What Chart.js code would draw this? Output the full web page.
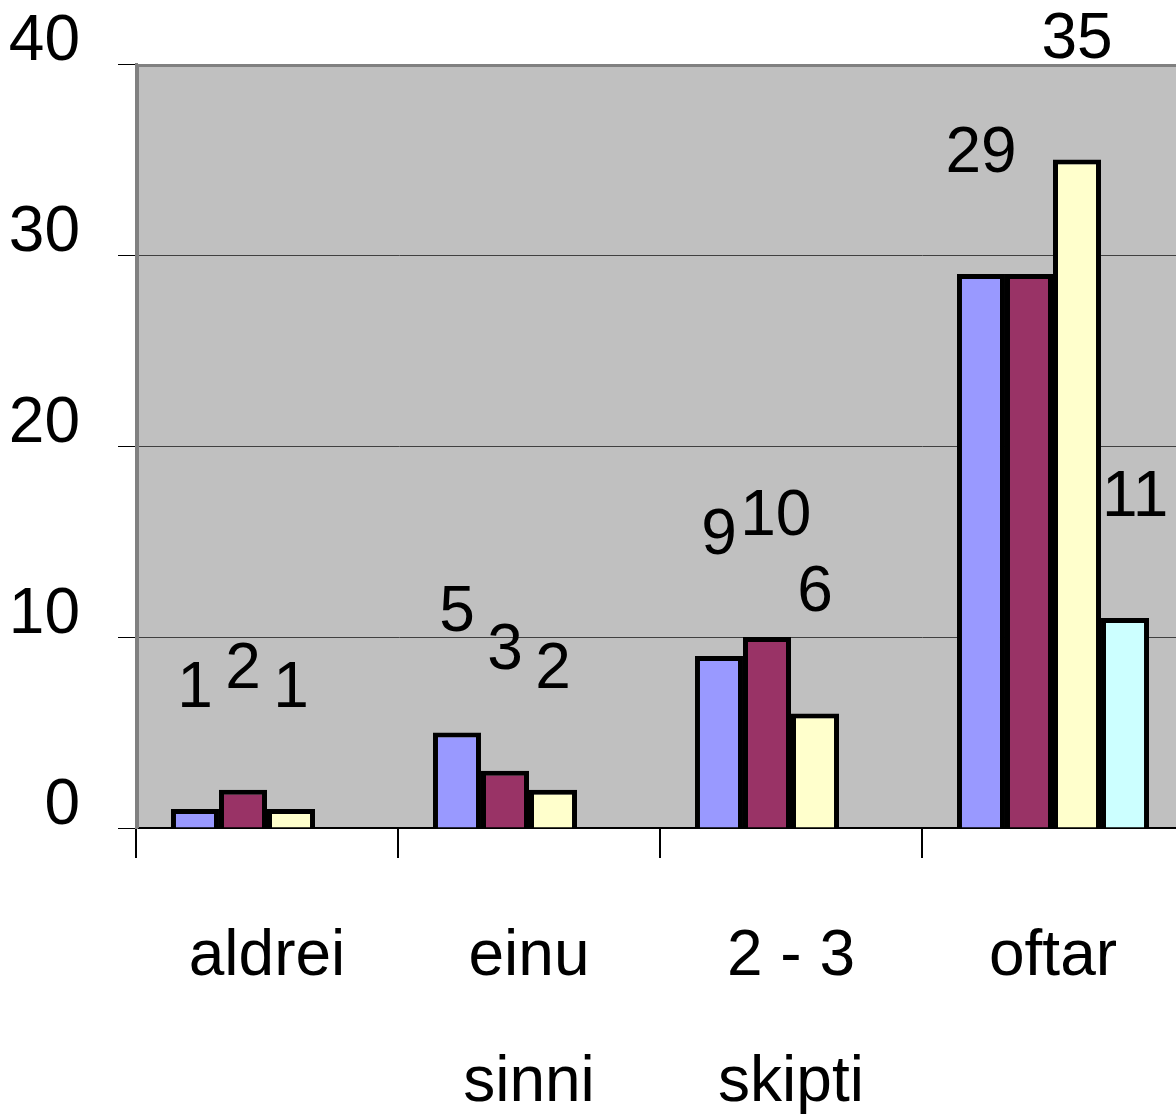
<html lang="is">
<head>
    <meta charset="UTF-8">
    <title>Fjöldi skipta</title>
    <script src="https://cdn.jsdelivr.net/npm/chart.js"></script>
    <style>
        body { margin: 0; overflow: hidden; background: #fff; }
    </style>
</head>
<body>
    <canvas id="barChart" width="1200" height="1119"></canvas>
    <script>
        // Flokkar (tveggja lína merki)
        var categories = [['aldrei'], ['einu', 'sinni'], ['2 - 3', 'skipti'], ['oftar']];
        // Gildi hverrar raðar
        var series1 = [1, 5, 9, 29];
        var series2 = [2, 3, 10, 29];
        var series3 = [1, 2, 6, 35];
        var series4 = [null, null, null, 11];
        var yTicks = [0, 10, 20, 30, 40];

        var fontFamily = '"Liberation Sans", Arial, sans-serif';

        // Grár bakgrunnur á teiknisvæði
        var plotBackground = {
            id: 'plotBackground',
            beforeDraw: function (chart) {
                var a = chart.chartArea, ctx = chart.ctx;
                ctx.save();
                ctx.fillStyle = '#C0C0C0';
                ctx.fillRect(a.left, a.top, a.right - a.left, a.bottom - a.top);
                ctx.restore();
            },
            beforeDatasetsDraw: function (chart) {
                var a = chart.chartArea, ctx = chart.ctx;
                ctx.save();
                ctx.strokeStyle = '#808080';
                ctx.lineWidth = 3;
                ctx.beginPath();
                ctx.moveTo(a.left + 1.5, a.bottom);
                ctx.lineTo(a.left + 1.5, a.top + 1.5);
                ctx.lineTo(a.right, a.top + 1.5);
                ctx.stroke();
                ctx.restore();
            }
        };

        function overlaps(a, b, gap) {
            return a.l < b.r + gap && a.r + gap > b.l && a.t < b.b && a.b > b.t;
        }

        // Gildismerki fyrir ofan súlur: færð aðeins til hægri ef þau rekast á, annars sleppt
        var valueLabels = {
            id: 'valueLabels',
            afterDatasetsDraw: function (chart) {
                var ctx = chart.ctx;
                var maxShift = 16;
                var boxes = [];
                var bars = [];
                chart.data.datasets.forEach(function (ds, i) {
                    chart.getDatasetMeta(i).data.forEach(function (bar, j) {
                        if (ds.data[j] === null) return;
                        bars.push({ l: bar.x - bar.width / 2, r: bar.x + bar.width / 2, t: bar.y, b: bar.base, own: i + '-' + j, gap: 5 });
                    });
                });
                ctx.save();
                ctx.font = '64px ' + fontFamily;
                ctx.fillStyle = '#000';
                ctx.textAlign = 'center';
                ctx.textBaseline = 'alphabetic';
                chart.data.datasets.forEach(function (ds, i) {
                    var meta = chart.getDatasetMeta(i);
                    meta.data.forEach(function (bar, j) {
                        var v = ds.data[j];
                        if (v === null || v === undefined) return;
                        var text = String(v);
                        var m = ctx.measureText(text);
                        var baseY = bar.y - 102;
                        var box = {
                            l: bar.x - m.actualBoundingBoxLeft,
                            r: bar.x + m.actualBoundingBoxRight,
                            t: baseY - m.actualBoundingBoxAscent,
                            b: baseY,
                            gap: 10
                        };
                        var shift = 0;
                        var others = boxes.concat(bars.filter(function (o) { return o.own !== i + '-' + j; }));
                        others.forEach(function (o) {
                            if (overlaps(box, o, o.gap)) shift = Math.max(shift, o.r + o.gap - box.l);
                        });
                        if (shift > maxShift) return;
                        box.l += shift;
                        box.r += shift;
                        boxes.push(box);
                        ctx.fillText(text, bar.x + shift, baseY);
                    });
                });
                ctx.restore();
            }
        };

        var ctx = document.getElementById('barChart').getContext('2d');
        var barChart = new Chart(ctx, {
            type: 'bar',
            data: {
                labels: categories,
                datasets: [
                    { label: 'Röð 1', data: series1, backgroundColor: '#9999FF' },
                    { label: 'Röð 2', data: series2, backgroundColor: '#993366' },
                    { label: 'Röð 3', data: series3, backgroundColor: '#FFFFCC' },
                    { label: 'Röð 4', data: series4, backgroundColor: '#CCFFFF' }
                ]
            },
            options: {
                responsive: false,
                animation: false,
                layout: { padding: { top: 64, left: 0, right: 16, bottom: 0 } },
                datasets: {
                    bar: {
                        borderColor: '#000',
                        borderWidth: 5,
                        categoryPercentage: 0.733,
                        barPercentage: 1,
                        skipNull: false
                    }
                },
                plugins: {
                    legend: { display: false },
                    tooltip: { enabled: false }
                },
                scales: {
                    x: {
                        afterFit: function (scale) {
                            scale.height = 291;
                            scale.paddingLeft = 0;
                            scale.paddingRight = 0;
                        },
                        grid: {
                            offset: true,
                            drawOnChartArea: false,
                            tickLength: 30,
                            tickColor: '#000',
                            lineWidth: 2
                        },
                        border: { color: '#000', width: 2 },
                        ticks: {
                            color: '#000',
                            padding: 36,
                            maxRotation: 0,
                            autoSkip: false,
                            font: { family: fontFamily, size: 64, lineHeight: 1.97 }
                        }
                    },
                    y: {
                        min: 0,
                        max: 40,
                        afterFit: function (scale) {
                            scale.width = 136;
                            scale.paddingTop = 0;
                            scale.paddingBottom = 0;
                        },
                        afterBuildTicks: function (scale) {
                            scale.ticks = yTicks.map(function (v) { return { value: v }; });
                        },
                        grid: {
                            color: '#404040',
                            lineWidth: 1,
                            tickLength: 18,
                            tickColor: '#000'
                        },
                        border: { color: '#808080', width: 3 },
                        ticks: {
                            color: '#000',
                            padding: 38,
                            labelOffset: -22,
                            font: { family: fontFamily, size: 64 }
                        }
                    }
                }
            },
            plugins: [plotBackground, valueLabels]
        });
    </script>
</body>
</html>
